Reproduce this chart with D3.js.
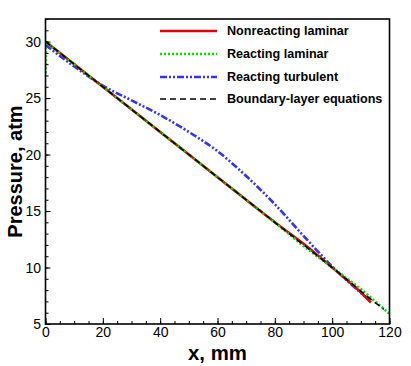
<!DOCTYPE html>
<html>
<head>
<meta charset="utf-8">
<script src="https://cdn.jsdelivr.net/npm/d3@7"></script>
<style>
  body { margin: 0; background: #fff; }
  text { font-family: "Liberation Sans", Arial, sans-serif; }
</style>
</head>
<body>
<svg id="chart" width="411" height="366"></svg>
<script>
// values
var seriesNames = ["Nonreacting laminar", "Reacting laminar", "Reacting turbulent", "Boundary-layer equations"];

var nonreactingX = [0, 20, 40, 60, 80, 90, 100, 110, 113.5];
var nonreactingP = [30, 26, 22, 18, 14, 12.1, 10, 7.8, 6.9];

var reactingLamX = [0, 0, 20, 40, 60, 80, 90, 100, 110, 120];
var reactingLamP = [27.2, 30, 26, 22, 18, 14, 11.9, 10, 8.1, 5.9];

var turbulentX = [0, 10, 20, 30, 40, 50, 60, 70, 80, 90, 100, 113];
var turbulentP = [29.7, 27.8, 26.1, 24.8, 23.5, 22.0, 20.3, 18.1, 15.6, 12.8, 10.1, 7.1];

var boundaryX = [0, 20, 40, 60, 80, 100, 113, 118];
var boundaryP = [30, 26, 22, 18, 14, 10, 7.3, 6.3];

var xTicks = [0, 20, 40, 60, 80, 100, 120];
var yTicks = [5, 10, 15, 20, 25, 30];

var svg = d3.select("#chart");
var plotLeft = 45.5, plotRight = 389.5, plotTop = 19, plotBottom = 324;

var x = d3.scaleLinear().domain([0, 120]).range([plotLeft, plotRight]);
var y = d3.scaleLinear().domain([5, 32]).range([plotBottom, plotTop]);

function pairs(xs, ys) {
    return xs.map(function (d, i) { return [d, ys[i]]; });
}

var line = d3.line()
    .x(function (d) { return x(d[0]); })
    .y(function (d) { return y(d[1]); })
    .curve(d3.curveMonotoneX);

var lineStraight = d3.line()
    .x(function (d) { return x(d[0]); })
    .y(function (d) { return y(d[1]); });

var styles = [
    { color: "#e00000", width: 2.6, dash: null },
    { color: "#00dd00", width: 2.6, dash: "2,2" },
    { color: "#3333ff", width: 2.6, dash: "7,2,2,2,2,2" },
    { color: "#000000", width: 1.6, dash: "6,4" }
];

var series = [
    pairs(nonreactingX, nonreactingP),
    pairs(reactingLamX, reactingLamP),
    pairs(turbulentX, turbulentP),
    pairs(boundaryX, boundaryP)
];

svg.append("clipPath").attr("id", "clip")
    .append("rect")
    .attr("x", plotLeft).attr("y", plotTop)
    .attr("width", plotRight - plotLeft).attr("height", plotBottom - plotTop);

var plot = svg.append("g").attr("clip-path", "url(#clip)");

// draw order: turbulent, nonreacting, reacting laminar, boundary layer
[2, 0, 1, 3].forEach(function (i) {
    var s = styles[i];
    plot.append("path")
        .attr("d", (i === 1 ? lineStraight : line)(series[i]))
        .attr("fill", "none")
        .attr("stroke", s.color)
        .attr("stroke-width", s.width)
        .attr("stroke-dasharray", s.dash);
});

// minor ticks
var xAxisMinor = d3.axisBottom(x).tickValues(d3.range(0, 121, 5)).tickSize(-3).tickFormat("");
var yAxisMinor = d3.axisLeft(y).tickValues(d3.range(5, 33, 1)).tickSize(-3).tickFormat("");

svg.append("g").attr("transform", "translate(0," + plotBottom + ")").call(xAxisMinor)
    .call(function (g) { g.select(".domain").remove(); });
svg.append("g").attr("transform", "translate(" + plotLeft + ",0)").call(yAxisMinor)
    .call(function (g) { g.select(".domain").remove(); });

// major ticks
var xAxis = d3.axisBottom(x).tickValues(xTicks).tickSize(-6).tickPadding(9);
var yAxis = d3.axisLeft(y).tickValues(yTicks).tickSize(-5).tickPadding(9);

var gx = svg.append("g").attr("transform", "translate(0," + plotBottom + ")").call(xAxis);
var gy = svg.append("g").attr("transform", "translate(" + plotLeft + ",0)").call(yAxis);

[gx, gy].forEach(function (g) {
    g.select(".domain").remove();
    g.selectAll("text").attr("font-size", 14).attr("fill", "#000")
        .style("font-family", "'Liberation Sans', Arial, sans-serif");
});
gx.selectAll("text").attr("y", 3.5);
gy.selectAll("text").attr("x", -4.5);
svg.selectAll(".tick line").attr("stroke", "#000").attr("stroke-width", 1);

// frame
svg.append("rect")
    .attr("x", plotLeft).attr("y", plotTop)
    .attr("width", plotRight - plotLeft).attr("height", plotBottom - plotTop)
    .attr("fill", "none").attr("stroke", "#000").attr("stroke-width", 1.6);

// axis titles
svg.append("text")
    .attr("x", (plotLeft + plotRight) / 2).attr("y", 360)
    .attr("text-anchor", "middle")
    .attr("font-size", 20.4).attr("font-weight", "bold")
    .text("x, mm");

svg.append("text")
    .attr("transform", "translate(22," + ((plotTop + plotBottom) / 2) + ") rotate(-90)")
    .attr("text-anchor", "middle")
    .attr("font-size", 20).attr("font-weight", "bold")
    .text("Pressure, atm");

// legend
var legendY = [31, 54, 77, 99];
var legend = svg.append("g");
seriesNames.forEach(function (name, i) {
    var s = styles[i];
    legend.append("line")
        .attr("x1", 160).attr("x2", 217)
        .attr("y1", legendY[i]).attr("y2", legendY[i])
        .attr("stroke", s.color)
        .attr("stroke-width", s.width)
        .attr("stroke-dasharray", s.dash);
    legend.append("text")
        .attr("x", 227).attr("y", legendY[i])
        .attr("dy", "0.35em")
        .attr("font-size", 12.6).attr("font-weight", "bold")
        .text(name);
});
</script>
</body>
</html>
